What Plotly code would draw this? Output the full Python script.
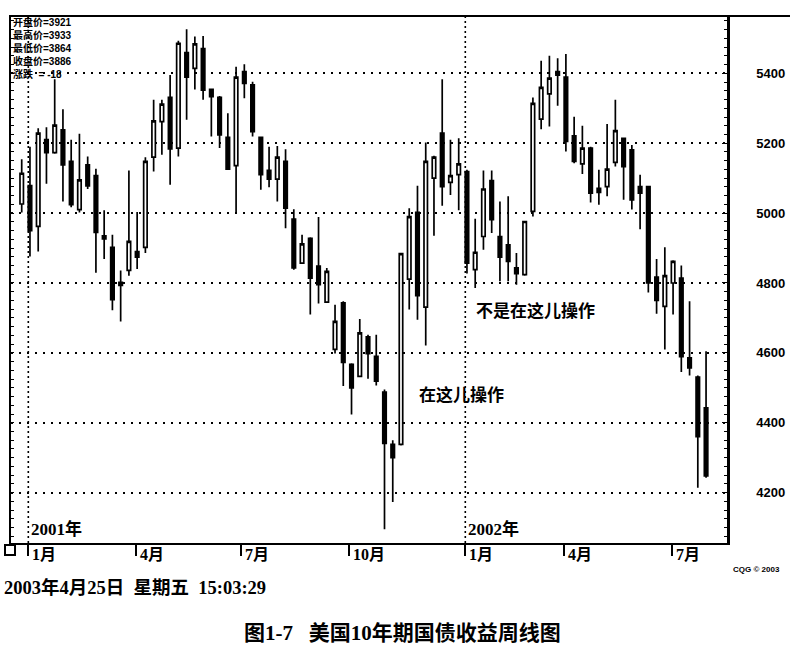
import plotly.graph_objects as go

# ---------------- data ----------------
OPEN = [5026, 5079, 4962, 5210, 5173, 5238, 5148, 5010, 5138, 5107,
        4935, 4902, 4802, 4836, 4890, 4902, 5160, 5262, 5331, 5186,
        5459, 5414, 5471, 5354, 5331, 5217, 5136, 5405, 5367, 5217,
        5122, 5097, 5148, 4983, 4857, 4928, 4848, 4745, 4610, 4743,
        4567, 4533, 4646, 4590, 4488, 4338, 4338, 4811, 5002, 4731,
        5100, 5229, 5088, 5110, 5119, 4838, 4933, 5093, 4933, 4909,
        4843, 4824, 5005, 5269, 5341, 5405, 5389, 5221, 5141, 5186,
        5071, 5076, 5145, 5214, 5181, 5076, 5076, 4817, 4733, 4800,
        4814, 4586, 4531, 4443]
HIGH = [5154, 5190, 5243, 5246, 5383, 5297, 5210, 5227, 5162, 5127,
        5008, 4938, 4836, 5122, 5003, 5160, 5324, 5324, 5395, 5493,
        5526, 5505, 5507, 5356, 5335, 5286, 5419, 5426, 5376, 5219,
        5190, 5192, 5183, 5011, 4938, 4931, 4989, 4843, 4738, 4748,
        4570, 4697, 4652, 4652, 4495, 4350, 4886, 5014, 5078, 5202,
        5164, 5383, 5210, 5214, 5124, 4984, 5122, 5122, 5033, 5048,
        4886, 4978, 5331, 5436, 5450, 5443, 5455, 5276, 5250, 5190,
        5124, 5255, 5324, 5216, 5195, 5110, 5078, 4869, 4902, 4865,
        4850, 4748, 4535, 4605]
LOW = [5002, 4876, 4890, 5084, 5170, 5033, 5017, 5002, 5069, 4829,
       4869, 4722, 4690, 4821, 4840, 4886, 5119, 5167, 5081, 5162,
       5267, 5354, 5324, 5219, 5186, 5124, 5000, 5329, 5219, 5067,
       5074, 5033, 4957, 4838, 4855, 4710, 4741, 4743, 4598, 4505,
       4424, 4531, 4526, 4507, 4095, 4173, 4335, 4724, 4695, 4621,
       4935, 5021, 5052, 5008, 4827, 4786, 4895, 4943, 4805, 4805,
       4795, 4821, 4990, 5240, 5248, 5307, 5176, 5143, 5112, 5030,
       5024, 5048, 5133, 5038, 5010, 4954, 4773, 4712, 4610, 4710,
       4545, 4535, 4214, 4243]
CLOSE = [5114, 4950, 5229, 5173, 5252, 5138, 5024, 5095, 5078, 4945,
         4926, 4752, 4793, 4919, 4874, 5148, 5264, 5312, 5184, 5486,
         5389, 5484, 5352, 5333, 5224, 5126, 5389, 5371, 5233, 5110,
         5097, 5160, 5014, 4843, 4912, 4814, 4795, 4833, 4690, 4573,
         4500, 4657, 4598, 4519, 4341, 4300, 4884, 4990, 4764, 5148,
         5160, 5076, 5107, 5141, 4857, 4888, 5069, 4981, 4874, 4862,
         4827, 4976, 5314, 5360, 5386, 5395, 5205, 5148, 5186, 5057,
         5059, 5126, 5236, 5133, 5038, 5057, 4800, 4750, 4821, 4862,
         4589, 4557, 4360, 4248]
WEEK_INDEX = list(range(len(OPEN)))

MONTH_TICK_POS = [0.8, 13.8, 26.6, 39.7, 53.8, 65.8, 78.9]
MONTH_TICK_TEXT = ["1月", "4月", "7月", "10月", "1月", "4月", "7月"]
YEAR_LINE_POS = [0.8, 53.8]
YEAR_LABELS = ["2001年", "2002年"]
Y_TICKS = [4200, 4400, 4600, 4800, 5000, 5200, 5400]
INFO_LINES = ["开盘价=3921", "最高价=3933", "最低价=3864", "收盘价=3886", "涨跌  = -18"]
NOTE_NOT_HERE = "不是在这儿操作"
NOTE_HERE = "在这儿操作"
DATE_TEXT = "2003年4月25日  星期五  15:03:29"
COPYRIGHT = "CQG © 2003"
CAPTION = "图1-7   美国10年期国债收益周线图"

X_RANGE = [-1.3, 85.54]
Y_RANGE = [4056, 5564]

# ---------------- layout geometry ----------------
W, H = 810, 655
ML, MR, MT, MB = 11, 83, 16, 112
PW, PH = W - ML - MR, H - MT - MB

def px(xp):
    return (xp - ML) / PW

def py(yp):
    return (H - MB - yp) / PH

SERIF = "Liberation Serif, Noto Sans CJK SC, serif"
SANS = "Liberation Sans, Noto Sans CJK SC, sans-serif"

fig = go.Figure()
fig.add_trace(go.Candlestick(
    x=WEEK_INDEX, open=OPEN, high=HIGH, low=LOW, close=CLOSE,
    increasing=dict(fillcolor="white", line=dict(color="black", width=1.7)),
    decreasing=dict(fillcolor="black", line=dict(color="black", width=1.7)),
    whiskerwidth=0, showlegend=False, hoverinfo="skip",
))
# invisible trace so the left (tick-only) axis is drawn
fig.add_trace(go.Scatter(x=[WEEK_INDEX[0]], y=[OPEN[0]], yaxis="y2", mode="markers",
                         marker=dict(opacity=0), showlegend=False, hoverinfo="skip"))

annotations = [
    dict(text="<br>".join(INFO_LINES), xref="paper", yref="paper", x=px(12), y=py(15),
         xanchor="left", yanchor="top", align="left", showarrow=False, borderpad=0,
         font=dict(family=SANS, size=10, color="black", weight="bold")),
]
for pos, lab in zip(YEAR_LINE_POS, YEAR_LABELS):
    annotations.append(dict(text=lab, xref="x", yref="paper", x=pos, y=py(529), xshift=1,
                            xanchor="left", yanchor="middle", showarrow=False,
                            font=dict(family=SERIF, size=17, color="black", weight="bold")))
for pos, lab in zip(MONTH_TICK_POS, MONTH_TICK_TEXT):
    annotations.append(dict(text=lab, xref="x", yref="paper", x=pos, y=py(554), xshift=2,
                            xanchor="left", yanchor="middle", showarrow=False,
                            font=dict(family=SERIF, size=16, color="black", weight="bold")))
annotations += [
    dict(text=NOTE_NOT_HERE, xref="paper", yref="paper", x=px(474), y=py(311),
         xanchor="left", yanchor="middle", showarrow=False,
         font=dict(family=SERIF, size=17, color="black", weight="bold")),
    dict(text=NOTE_HERE, xref="paper", yref="paper", x=px(417), y=py(395),
         xanchor="left", yanchor="middle", showarrow=False,
         font=dict(family=SERIF, size=17, color="black", weight="bold")),
    dict(text=DATE_TEXT, xref="paper", yref="paper", x=px(2), y=py(587),
         xanchor="left", yanchor="middle", showarrow=False,
         font=dict(family=SERIF, size=18.5, color="black", weight="bold")),
    dict(text=COPYRIGHT, xref="paper", yref="paper", x=px(731), y=py(569),
         xanchor="left", yanchor="middle", showarrow=False,
         font=dict(family=SANS, size=8, color="black", weight="bold")),
    dict(text=CAPTION, xref="paper", yref="paper", x=px(402), y=py(633),
         xanchor="center", yanchor="middle", showarrow=False,
         font=dict(family=SERIF, size=21, color="black", weight="bold")),
]

shapes = [
    # top border extending past the price axis
    dict(type="line", xref="paper", yref="paper", x0=px(9), x1=px(790), y0=1, y1=1,
         line=dict(color="black", width=2)),
    # small box at lower-left corner
    dict(type="rect", xref="paper", yref="paper", x0=px(5), x1=px(15), y0=py(545), y1=py(555),
         line=dict(color="black", width=2), fillcolor="white"),
]
for pos in YEAR_LINE_POS:
    shapes.append(dict(type="line", xref="x", yref="paper", x0=pos, x1=pos, y0=0, y1=1,
                       line=dict(color="black", width=1.6, dash="2px,3px"), layer="below"))

fig.update_layout(
    width=W, height=H,
    margin=dict(l=ML, r=MR, t=MT, b=MB, pad=0),
    paper_bgcolor="white", plot_bgcolor="white",
    boxgap=0.4,
    showlegend=False,
    annotations=annotations,
    shapes=shapes,
    xaxis=dict(range=X_RANGE, rangeslider=dict(visible=False), showgrid=False, zeroline=False,
               showline=True, linecolor="black", linewidth=2,
               tickmode="array", tickvals=MONTH_TICK_POS, ticktext=[""] * len(MONTH_TICK_POS),
               ticks="outside", ticklen=11, tickwidth=1.5, tickcolor="black", fixedrange=True),
    yaxis=dict(range=Y_RANGE, side="right", showline=True, linecolor="black", linewidth=2.5,
               tickmode="array", tickvals=Y_TICKS, ticktext=[str(v) for v in Y_TICKS],
               ticks="inside", ticklen=5, tickwidth=1, tickcolor="black",
               ticklabelstandoff=24,
               tickfont=dict(family="Liberation Sans, Arial, sans-serif", size=13,
                             color="black", weight="bold"),
               showgrid=True, gridcolor="black", gridwidth=1.8, griddash="2px,6px",
               zeroline=False,
               minor=dict(dtick=25, ticks="inside", ticklen=3, tickwidth=1,
                          tickcolor="black", showgrid=False)),
    yaxis2=dict(range=Y_RANGE, overlaying="y", side="left", anchor="x",
                showline=True, linecolor="black", linewidth=2,
                tickmode="linear", tick0=4000, dtick=25, ticks="inside", ticklen=3,
                tickcolor="black", showticklabels=False, showgrid=False, zeroline=False),
)

fig.write_html("out.html", config={"displayModeBar": False},
               post_script="document.body.style.margin='0';document.body.style.padding='0';")
